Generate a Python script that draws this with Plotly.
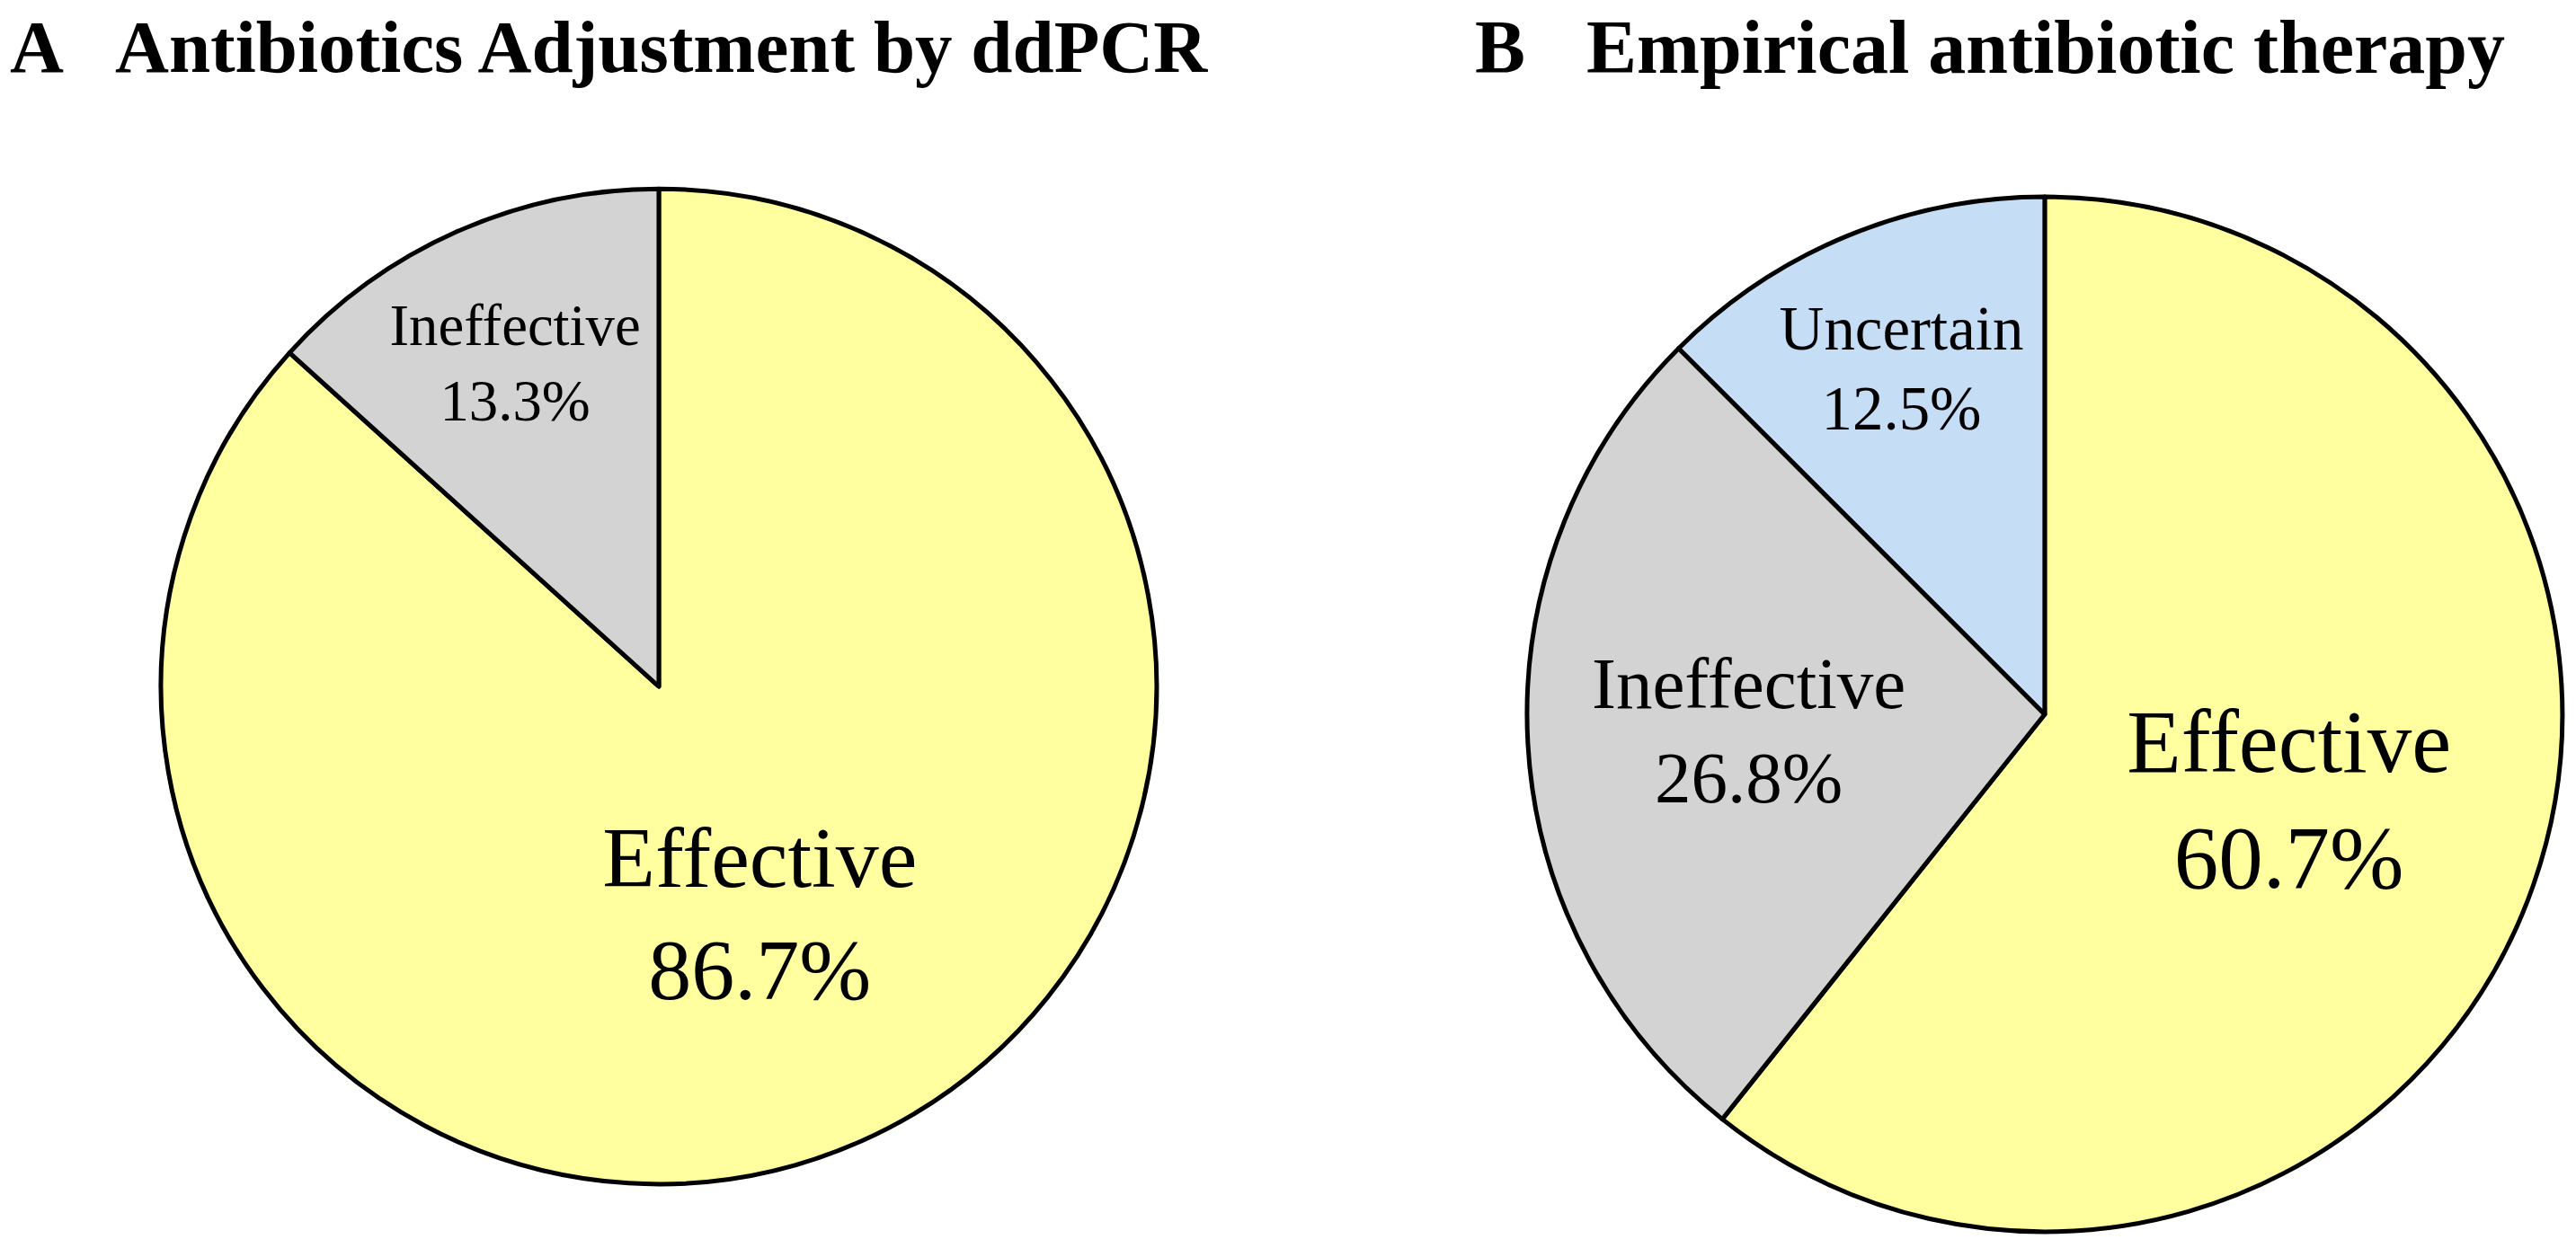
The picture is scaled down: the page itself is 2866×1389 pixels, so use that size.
import plotly.graph_objects as go
# main imports


# panel A data
a_labels = ["Effective", "Ineffective"]
a_values = [86.7, 13.3]

# panel B data
b_labels = ["Effective", "Ineffective", "Uncertain"]
b_values = [60.7, 26.8, 12.5]

a_title = "Antibiotics Adjustment by ddPCR"
b_title = "Empirical antibiotic therapy"

colors = {"Effective": "#FFFF9F", "Ineffective": "#D3D3D3", "Uncertain": "#C6DDF6"}
font_family = "Liberation Serif, Times New Roman, serif"


def make_pie(labels, values, sizes, x_dom, y_dom):
    """Builds one pie that starts at 12 o'clock and runs clockwise"""

    return go.Pie(
        labels=labels, values=values,
        sort=False, direction="clockwise", rotation=0,
        marker=dict(colors=[colors[x] for x in labels],
                    line=dict(color="black", width=5)),
        texttemplate="%{label}<br>%{percent:.1%}",
        textposition="inside",
        insidetextorientation="horizontal",
        textfont=dict(family=font_family, color="black", size=sizes),
        hoverinfo="label+percent",
        showlegend=False,
        domain=dict(x=x_dom, y=y_dom),
    )


fig = go.Figure()

fig.add_trace(make_pie(a_labels, a_values, [96, 76],
                       [0.0625, 0.4490], [0.0511, 0.8488]))
fig.add_trace(make_pie(b_labels, b_values, [99, 81, 78],
                       [0.5928, 0.9947], [0.0130, 0.8423]))

# panel titles
for x, txt, size in [(0.003, "A", 83), (0.044, a_title, 83),
                     (0.572, "B", 84), (0.615, b_title, 84)]:
    fig.add_annotation(
        text=f"<b>{txt}</b>", x=x, y=1, xref="paper", yref="paper",
        xanchor="left", yanchor="top", showarrow=False, yshift=-4,
        font=dict(family=font_family, size=size, color="black"),
    )

fig.update_layout(
    width=2866, height=1389,
    margin=dict(l=0, r=0, t=0, b=0),
    paper_bgcolor="white", plot_bgcolor="white",
)

# drop the browser's default page margin so the figure sits at 0,0
fig.write_html("out.html", config={"displayModeBar": False},
               post_script="document.body.style.margin = '0px';")
